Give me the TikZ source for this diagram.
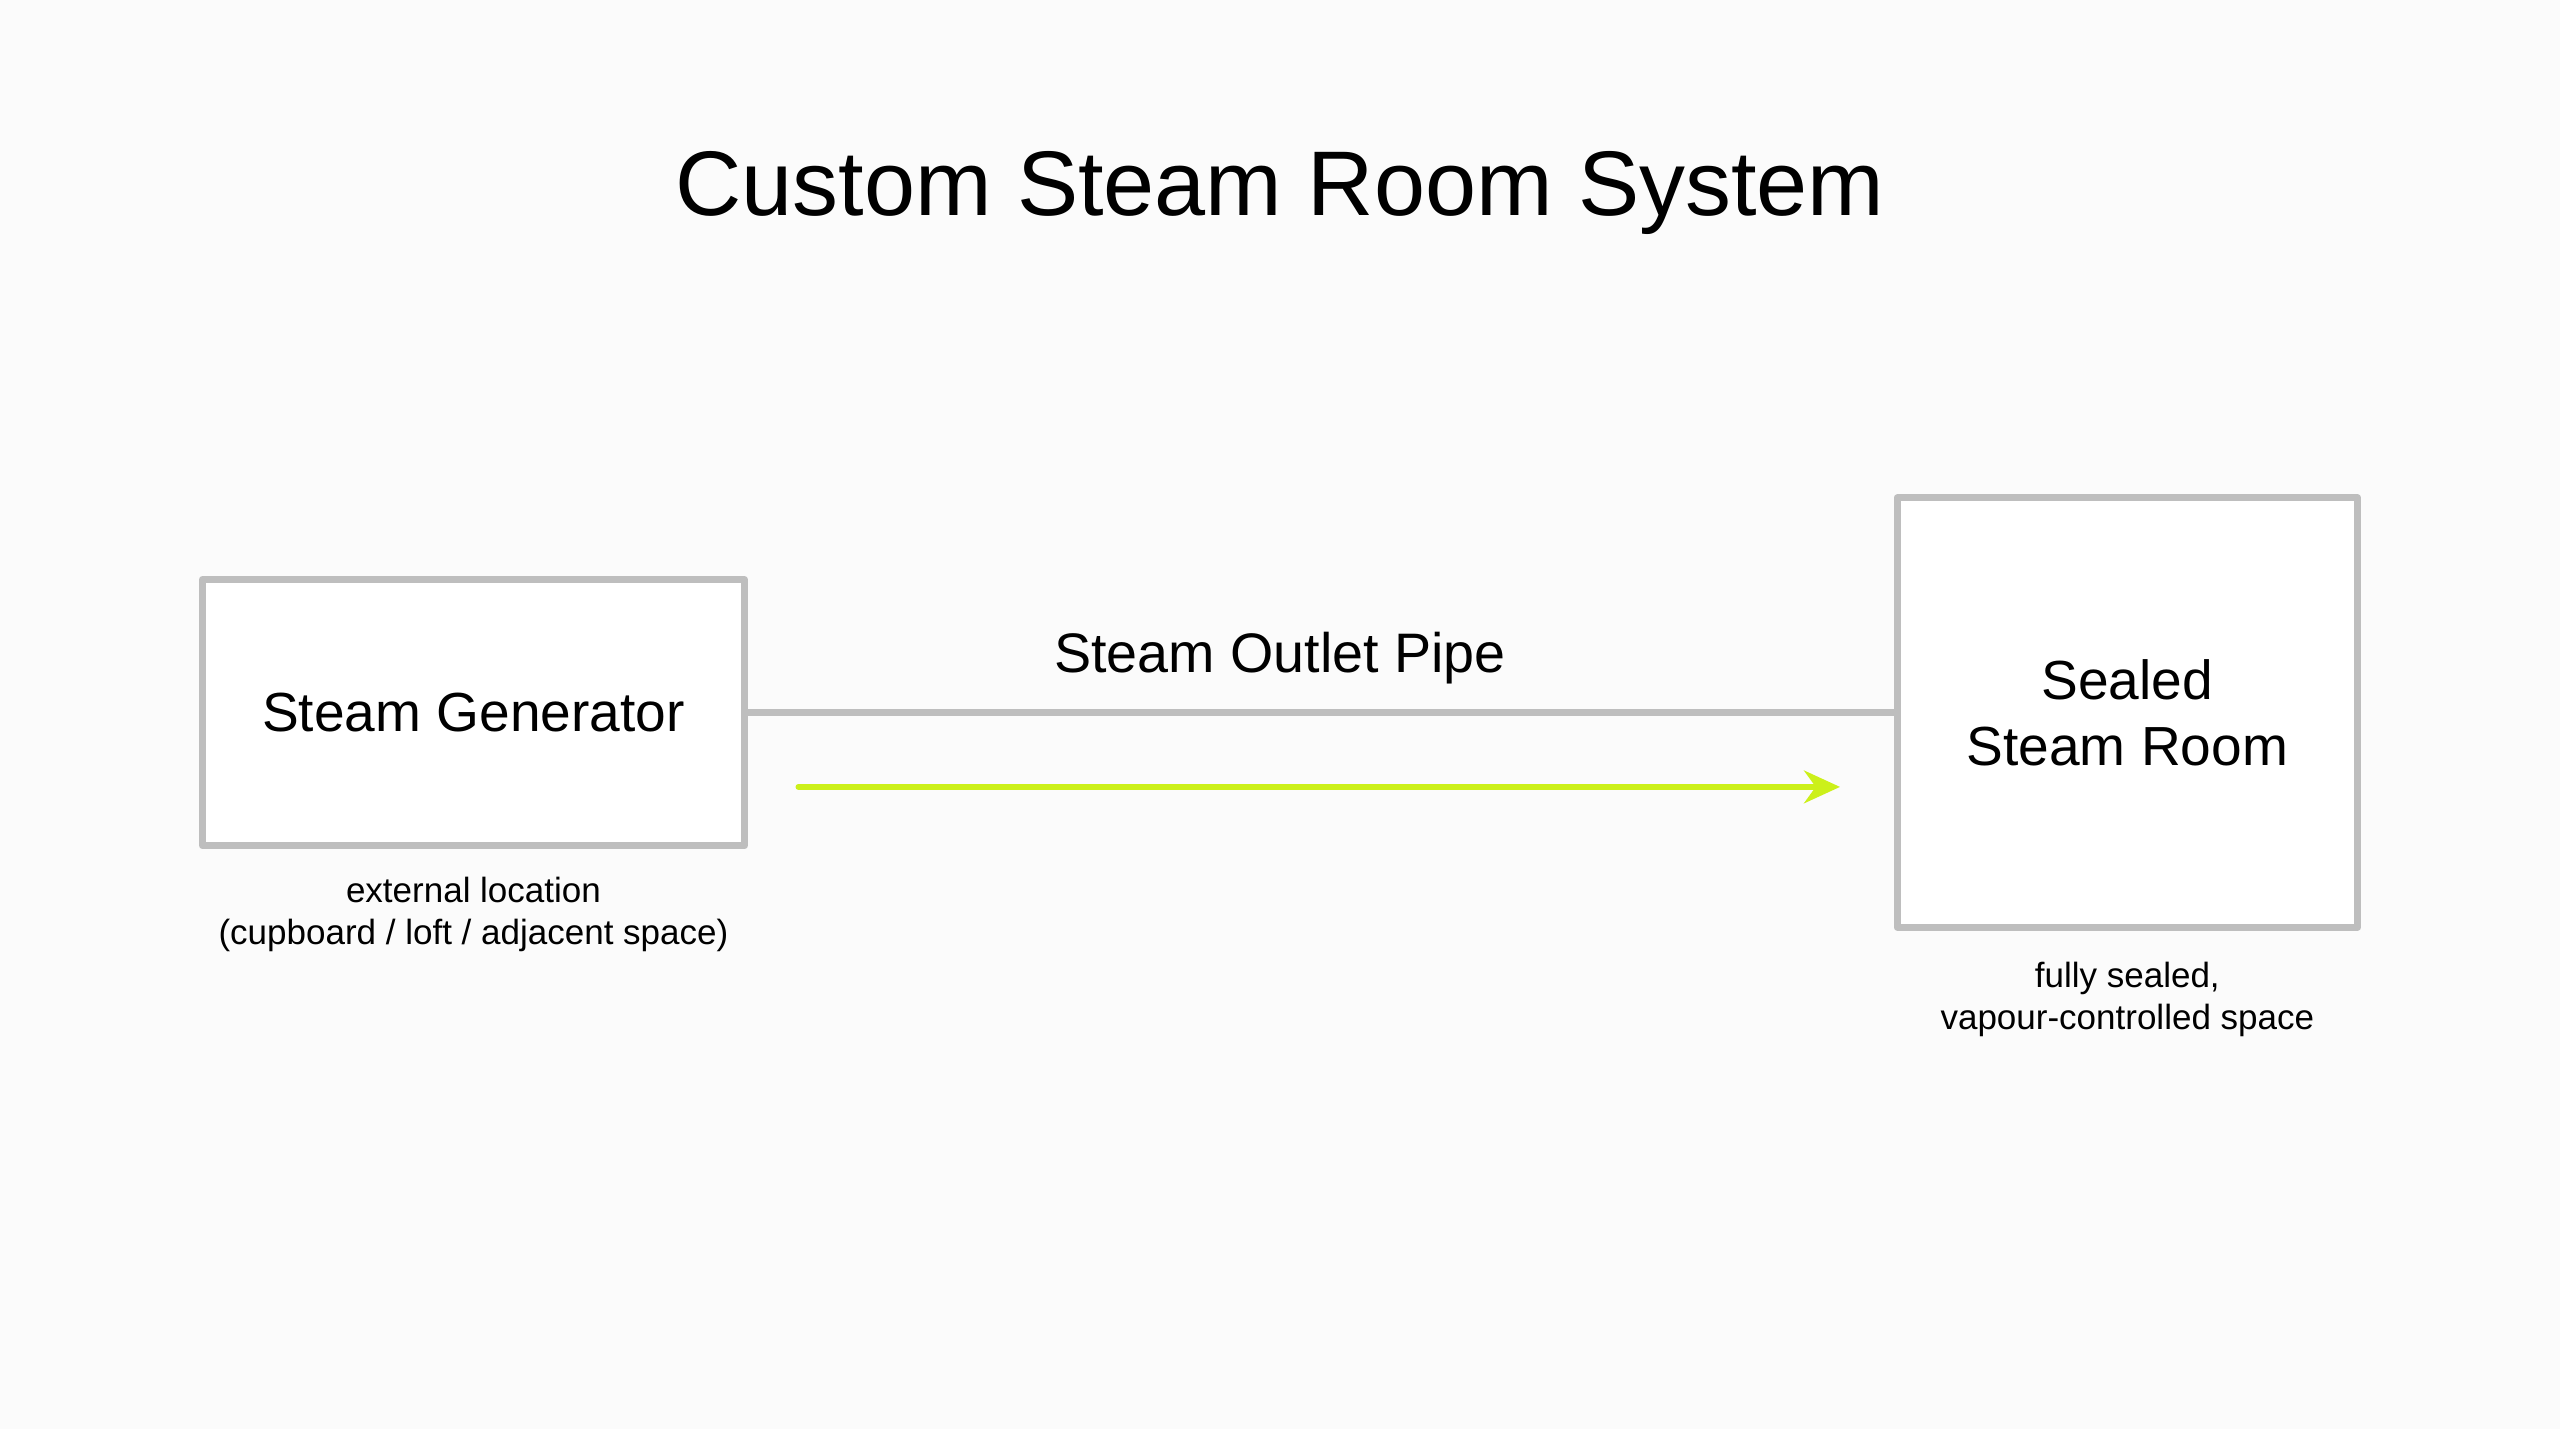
\documentclass[tikz,border=0pt]{standalone}
\usepackage{fontspec}
\setmainfont{Liberation Sans}
\usetikzlibrary{arrows.meta,positioning}
\definecolor{boxgray}{RGB}{190,190,190}
\definecolor{steamgreen}{RGB}{204,240,26}
\begin{document}
\begin{tikzpicture}[line cap=round,line join=round,x=0.1mm,y=-0.1mm,
    unit/.style={draw=boxgray,line width=1.2pt,fill=white,inner sep=0pt,align=center,font=\fontsize{9.6}{11.5}\selectfont},
    note/.style={align=center,font=\fontsize{6.1}{7.3}\selectfont}]

    \fill[white!97!gray] (0,0) rectangle (1568,875);
    \useasboundingbox (0,0) rectangle (1568,875);

    \node (title) at (784,118) {\fontsize{16}{19}\selectfont Custom Steam Room System};

    \node[unit,minimum width=33.2mm,minimum height=16.3mm] (gen) at (290,436.5) {Steam Generator};
    \node[unit,minimum width=28.2mm,minimum height=26.3mm] (room) at (1303,436.5) {Sealed\\Steam Room};

    \node[note] (gennote) at (290,560) {external location\\(cupboard / loft / adjacent space)};
    \node[note] (roomnote) at (1303,612) {fully sealed,\\vapour-controlled space};

    % Pipe
    \draw[boxgray,line width=1.2pt] (gen.east) -- (room.west);
    \node[font=\fontsize{9.7}{11.5}\selectfont] (pipe) at (784,403) {Steam Outlet Pipe};

    % Steam flow
    \coordinate (flowstart) at (489,482);
    \coordinate (flowend) at (1127,482);
    \draw[steamgreen,line width=1pt,-{Stealth[length=2.2mm,width=2mm]}] (flowstart) -- (flowend);
\end{tikzpicture}
\end{document}
